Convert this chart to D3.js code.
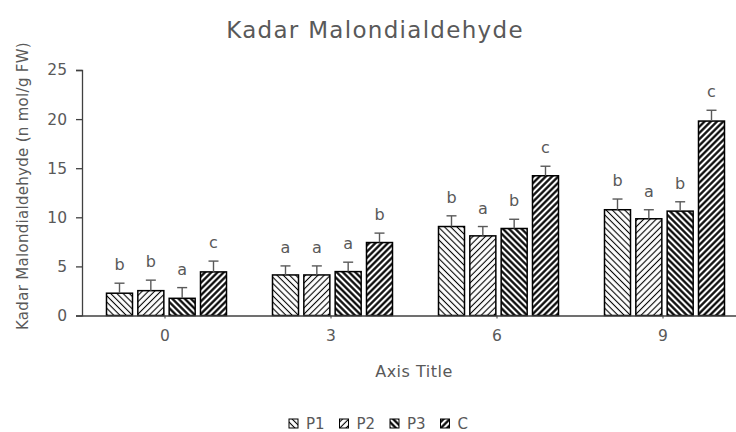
<!DOCTYPE html>
<html>
<head>
<meta charset="utf-8">
<script src="https://cdn.jsdelivr.net/npm/d3@7"></script>
<style>
  body { margin: 0; background: #fff; }
  text { font-family: "DejaVu Sans", sans-serif; fill: #595959; }
</style>
</head>
<body>
<svg id="chart" width="736" height="432"></svg>
<script>
// data
var days = ["0", "3", "6", "9"];
var series = ["P1", "P2", "P3", "C"];
var p1 = [2.27, 4.13, 9.06, 10.77];
var p2 = [2.53, 4.13, 8.11, 9.85];
var p3 = [1.75, 4.47, 8.86, 10.63];
var c  = [4.44, 7.43, 14.23, 19.8];
var p1Err = [1.02, 0.92, 1.09, 1.09];
var p2Err = [1.07, 0.92, 0.95, 0.92];
var p3Err = [1.09, 0.96, 0.94, 0.95];
var cErr  = [1.1, 0.96, 0.97, 1.1];
var p1Sig = ["b", "a", "b", "b"];
var p2Sig = ["b", "a", "a", "a"];
var p3Sig = ["a", "a", "b", "b"];
var cSig  = ["c", "b", "c", "c"];
var yTicks = [0, 5, 10, 15, 20, 25];

var values = [p1, p2, p3, c];
var errs = [p1Err, p2Err, p3Err, cErr];
var sigs = [p1Sig, p2Sig, p3Sig, cSig];

var rows = [];
days.forEach(function(d, i) {
  series.forEach(function(s, j) {
    rows.push({ day: d, s: s, v: values[j][i], e: errs[j][i], sig: sigs[j][i] });
  });
});

var svg = d3.select('#chart');

/* hatch patterns */
var defs = svg.append('defs');
var hatch = {
  P1: { angle: -45, w: 1.1 },
  P2: { angle: 45, w: 1.1 },
  P3: { angle: -45, w: 2.2 },
  C:  { angle: 45, w: 2.2 }
};
series.forEach(function(s) {
  var p = defs.append('pattern')
    .attr('id', 'hatch-' + s)
    .attr('patternUnits', 'userSpaceOnUse')
    .attr('width', 4.4)
    .attr('height', 4.4)
    .attr('patternTransform', 'rotate(' + hatch[s].angle + ')');
  p.append('rect').attr('width', 4.4).attr('height', 4.4).style('fill', '#fff');
  p.append('line')
    .attr('x1', 2.2).attr('y1', 0).attr('x2', 2.2).attr('y2', 4.4)
    .style('stroke', '#000')
    .style('stroke-width', hatch[s].w);
});

var x0 = d3.scaleBand().domain(days).range([82, 746]);
var x1 = d3.scaleBand().domain(series).range([0, 120]).paddingInner(0.17);
var y = d3.scaleLinear().domain([0, 25]).range([315.5, 70]);
var groupOffset = (x0.bandwidth() - 120) / 2 + 1.5;

/* title */
svg.append('text')
  .attr('x', 375).attr('y', 38)
  .attr('text-anchor', 'middle')
  .style('font-size', '23px')
  .style('letter-spacing', '1.3px')
  .text('Kadar Malondialdehyde');

/* y axis */
var yAxis = svg.append('g')
  .attr('transform', 'translate(82,0)')
  .call(d3.axisLeft(y).tickValues(yTicks).tickSize(6).tickPadding(9));
yAxis.select('.domain').style('stroke', '#404040').style('stroke-width', 1.3);
yAxis.selectAll('.tick line').style('stroke', '#404040').style('stroke-width', 1.3);
yAxis.selectAll('.tick text')
  .style('font-size', '15.5px')
  .style('font-family', '"DejaVu Sans", sans-serif')
  .style('fill', '#595959');

svg.append('text')
  .attr('transform', 'translate(28,186) rotate(-90)')
  .attr('text-anchor', 'middle')
  .style('font-size', '15px')
  .style('letter-spacing', '0.3px')
  .text('Kadar Malondialdehyde (n mol/g FW)');

/* bars */
var groups = svg.append('g').selectAll('g')
  .data(rows)
  .enter()
  .append('g')
  .attr('transform', d => 'translate(' + (x0(d.day) + groupOffset + x1(d.s)) + ',0)');

groups.append('rect')
  .attr('x', 0)
  .attr('y', d => y(d.v))
  .attr('width', x1.bandwidth())
  .attr('height', d => y(0) - y(d.v))
  .style('fill', d => 'url(#hatch-' + d.s + ')')
  .style('stroke', '#000')
  .style('stroke-width', 1.5);

/* error bars, upper side only */
groups.append('line')
  .attr('x1', x1.bandwidth() / 2).attr('x2', x1.bandwidth() / 2)
  .attr('y1', d => y(d.v))
  .attr('y2', d => y(d.v + d.e))
  .style('stroke', '#595959')
  .style('stroke-width', 1.4);
groups.append('line')
  .attr('x1', x1.bandwidth() / 2 - 5).attr('x2', x1.bandwidth() / 2 + 5)
  .attr('y1', d => y(d.v + d.e))
  .attr('y2', d => y(d.v + d.e))
  .style('stroke', '#595959')
  .style('stroke-width', 1.4);

groups.append('text')
  .attr('x', x1.bandwidth() / 2)
  .attr('y', d => y(d.v + d.e) - 13)
  .attr('text-anchor', 'middle')
  .style('font-size', '16px')
  .text(d => d.sig);

/* x axis */
var xAxis = svg.append('g')
  .attr('transform', 'translate(0,315.5)')
  .call(d3.axisBottom(x0).tickSize(3).tickPadding(11).tickSizeOuter(0));
xAxis.select('.domain').style('stroke', '#404040').style('stroke-width', 1.5);
xAxis.selectAll('.tick line').style('stroke', '#404040');
xAxis.selectAll('.tick text')
  .style('font-size', '15.5px')
  .style('font-family', '"DejaVu Sans", sans-serif')
  .style('fill', '#595959');

svg.append('text')
  .attr('x', 414).attr('y', 377)
  .attr('text-anchor', 'middle')
  .style('font-size', '16px')
  .style('letter-spacing', '0.5px')
  .text('Axis Title');

/* legend */
var legend = svg.append('g').selectAll('g')
  .data(series)
  .enter()
  .append('g')
  .attr('transform', (d, i) => 'translate(' + (289 + i * 50.5) + ',419)');
legend.append('rect')
  .attr('width', 9).attr('height', 9)
  .style('fill', d => 'url(#hatch-' + d + ')')
  .style('stroke', '#000')
  .style('stroke-width', 1);
legend.append('text')
  .attr('x', 17).attr('y', 10)
  .style('font-size', '15px')
  .text(d => d);
</script>
</body>
</html>
